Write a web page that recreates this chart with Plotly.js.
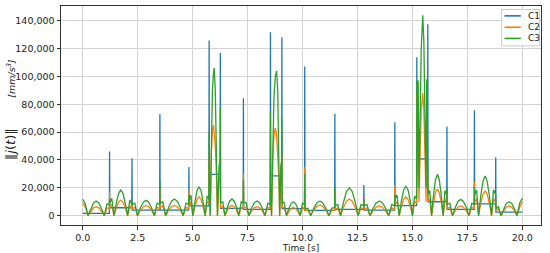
<!DOCTYPE html>
<html>
<head>
<meta charset="utf-8">
<script src="https://cdn.plot.ly/plotly-3.0.1.min.js"></script>
<style>
  html, body { margin: 0; padding: 0; background: #fff; }
  #chart { width: 550px; height: 253px; }
</style>
</head>
<body>
<div id="chart"></div>
<script>
// C1: flat jerk level per segment, spike at every waypoint
const tC1 = [0,
  1.21, 1.22, 1.23,  2.23, 2.24, 2.25,  3.50, 3.51, 3.52,  4.82, 4.83, 4.84,
  5.74, 5.75, 5.76,  6.25, 6.26, 6.27,  7.30, 7.31, 7.32,  8.53, 8.54, 8.55,
  9.05, 9.06, 9.07,  10.09, 10.10, 10.11,  11.46, 11.47, 11.48,  12.78, 12.79, 12.80,
  14.19, 14.20, 14.21,  15.19, 15.20, 15.21,  15.69, 15.70, 15.71,  16.56, 16.57, 16.58,
  17.81, 17.82, 17.83,  18.78, 18.79, 18.80,  20.0];
const c1 = [1700,
  1700, 46000, 5700,  5700, 41200, 4000,  4000, 73000, 4000,  4000, 35000, 7000,
  7000, 125700, 29700,  29700, 117000, 5300,  5300, 84300, 4500,  4500, 131700, 28500,
  28500, 128000, 5000,  5000, 107000, 3800,  3800, 73000, 4500,  4500, 22000, 4000,
  4000, 67000, 7200,  7200, 113700, 40700,  40700, 137400, 10000,  10000, 64000, 4500,
  4500, 75700, 8400,  8400, 42000, 2600,  2600];

// C2 / C3 share one time axis (arches inside each segment + waypoint spike)
const tHump = [
  0, 0.12, 0.24, 0.37, 0.49, 0.61, 0.73, 0.85, 0.98, 1.10, 1.21, 1.22,
  1.23, 1.32, 1.42, 1.53, 1.63, 1.73, 1.83, 1.93, 2.04, 2.14, 2.23, 2.24,
  2.25, 2.37, 2.49, 2.62, 2.75, 2.88, 3.00, 3.13, 3.26, 3.38, 3.50, 3.51,
  3.52, 3.64, 3.77, 3.91, 4.04, 4.17, 4.30, 4.43, 4.57, 4.70, 4.82, 4.83,
  4.84, 4.92, 5.01, 5.11, 5.20, 5.29, 5.38, 5.47, 5.57, 5.66, 5.74, 5.75,
  5.76, 5.80, 5.85, 5.90, 5.95, 5.98, 6.03, 6.08, 6.13, 6.20, 6.25, 6.26,
  6.27, 6.37, 6.47, 6.58, 6.68, 6.79, 6.89, 7.00, 7.10, 7.21, 7.30, 7.31,
  7.32, 7.43, 7.56, 7.68, 7.80, 7.93, 8.05, 8.17, 8.29, 8.42, 8.53, 8.54,
  8.55, 8.59, 8.64, 8.70, 8.76, 8.82, 8.87, 8.92, 8.96, 9.01, 9.05, 9.06,
  9.07, 9.16, 9.27, 9.37, 9.48, 9.58, 9.68, 9.79, 9.89, 10.00, 10.09, 10.10,
  10.11, 10.24, 10.37, 10.51, 10.65, 10.79, 10.92, 11.06, 11.20, 11.33, 11.46, 11.47,
  11.48, 11.60, 11.73, 11.87, 12.00, 12.13, 12.26, 12.39, 12.53, 12.66, 12.78, 12.79,
  12.80, 12.93, 13.07, 13.21, 13.35, 13.50, 13.64, 13.78, 13.92, 14.06, 14.19, 14.20,
  14.21, 14.30, 14.40, 14.50, 14.60, 14.70, 14.80, 14.90, 15.00, 15.10, 15.19, 15.20,
  15.21, 15.26, 15.30, 15.35, 15.40, 15.47, 15.52, 15.57, 15.62, 15.65, 15.69, 15.70,
  15.71, 15.79, 15.87, 15.96, 16.05, 16.14, 16.22, 16.31, 16.40, 16.48, 16.56, 16.57,
  16.58, 16.70, 16.82, 16.95, 17.07, 17.20, 17.32, 17.45, 17.57, 17.70, 17.81, 17.82,
  17.83, 17.92, 18.01, 18.11, 18.21, 18.31, 18.40, 18.50, 18.60, 18.69, 18.78, 18.79,
  18.80, 18.91, 19.03, 19.15, 19.27, 19.40, 19.52, 19.64, 19.76, 19.88, 20.00
];
const c2 = [
  9000, 6000, 0, 3200, 5600, 6500, 5600, 3200, 0, 5500, 5000, 17000,
  6000, 8000, 0, 5600, 9700, 11200, 9700, 5600, 0, 7000, 5000, 10000,
  5000, 6000, 0, 3700, 6400, 7400, 6400, 3700, 0, 6000, 5000, 19000,
  6000, 7000, 0, 3700, 6400, 7400, 6400, 3700, 0, 6000, 5000, 19000,
  7000, 10000, 0, 6800, 11800, 13600, 11800, 6800, 0, 10000, 9000, 40000,
  15000, 0, 45000, 62000, 65000, 60000, 50000, 30000, 0, 25000, 30000, 50000,
  6000, 6500, 0, 3700, 6400, 7400, 6400, 3700, 0, 6000, 5500, 30000,
  6000, 6000, 0, 3200, 5600, 6500, 5600, 3200, 0, 6000, 5000, 50000,
  15000, 0, 40000, 58000, 63000, 58000, 45000, 28000, 0, 25000, 30000, 45000,
  6000, 6000, 0, 3000, 5200, 6000, 5200, 3000, 0, 6000, 5000, 35000,
  3500, 4000, 0, 3900, 6700, 7700, 6700, 3900, 0, 4000, 4000, 17000,
  5000, 5500, 0, 6000, 10400, 12000, 10400, 6000, 0, 5500, 5000, 12400,
  5000, 5500, 0, 3500, 6100, 7000, 6100, 3500, 0, 5500, 5000, 22000,
  8000, 10000, 0, 6800, 11800, 13600, 11800, 6800, 0, 10000, 9000, 88000,
  20000, 60000, 10000, 45000, 75000, 88000, 75000, 45000, 10000, 60000, 20000, 30000,
  10000, 12000, 0, 9600, 16600, 19100, 16600, 9600, 0, 12000, 10000, 15000,
  5000, 6000, 0, 3500, 6100, 7000, 6100, 3500, 0, 6000, 5000, 24400,
  10000, 12000, 0, 8900, 15400, 17700, 15400, 8900, 0, 12000, 10000, 10000,
  4000, 5000, 0, 3500, 6100, 7000, 6100, 3500, 0, 6000, 10000
];
const c3 = [
  11800, 8000, 0, 5200, 9100, 10500, 9100, 5200, 0, 8500, 8000, 12000,
  9000, 12500, 0, 9200, 16000, 18400, 16000, 9200, 0, 11300, 8000, 10000,
  8000, 9000, 0, 5500, 9600, 11000, 9600, 5500, 0, 9000, 8000, 25600,
  9000, 10000, 0, 6000, 10400, 12000, 10400, 6000, 0, 9000, 8000, 15000,
  10000, 14800, 0, 10400, 18100, 20800, 18100, 10400, 0, 14000, 12000, 60000,
  20000, 0, 60000, 90000, 103000, 106000, 90000, 50000, 0, 35000, 40000, 78000,
  9000, 10000, 0, 6000, 10400, 12000, 10400, 6000, 0, 10000, 9000, 25600,
  9000, 9500, 0, 5300, 9100, 10500, 9100, 5300, 0, 9000, 8000, 75000,
  20000, 0, 55000, 85000, 100000, 104000, 90000, 50000, 0, 35000, 40000, 70000,
  9000, 9500, 0, 5000, 8700, 10000, 8700, 5000, 0, 9000, 8000, 30000,
  5000, 5300, 0, 5300, 9100, 10500, 9100, 5300, 0, 5300, 6000, 20800,
  7000, 8000, 0, 10000, 17400, 20000, 17400, 10000, 0, 8000, 7000, 12000,
  7000, 8000, 0, 5300, 9100, 10500, 9100, 5300, 0, 8000, 7000, 15000,
  12000, 14800, 0, 10700, 18500, 21300, 18500, 10700, 0, 14000, 12000, 97000,
  30000, 97000, 20000, 70000, 120000, 143900, 125000, 70000, 20000, 98000, 30000, 40000,
  15000, 18000, 0, 14900, 25800, 29700, 25800, 14900, 0, 18000, 15000, 20000,
  8000, 9000, 0, 5900, 10200, 11700, 10200, 5900, 0, 9000, 8000, 20800,
  15000, 18500, 0, 14300, 24800, 28500, 24800, 14300, 0, 18500, 15000, 15000,
  5000, 6500, 0, 5000, 8700, 10000, 8700, 5000, 0, 9000, 12500
];

const seriesNames = ['C1', 'C2', 'C3'];
const seriesColors = ['#1f77b4', '#ff7f0e', '#2ca02c'];

const traces = [
  {x: tC1, y: c1},
  {x: tHump, y: c2},
  {x: tHump, y: c3}
].map(function (d, i) {
  return {
    x: d.x, y: d.y, type: 'scatter', mode: 'lines',
    name: seriesNames[i], showlegend: false,
    line: {color: seriesColors[i], width: 1.3}
  };
});

// small matplotlib-like legend box in the upper right corner (paper coords)
const shapes = [{
  type: 'rect', xref: 'paper', yref: 'paper',
  x0: 0.918, x1: 0.997, y0: 0.818, y1: 0.984,
  line: {color: '#cccccc', width: 1}, fillcolor: 'rgba(255,255,255,0.85)'
}];
const annotations = [];
const rowY = [0.955, 0.903, 0.852];
seriesNames.forEach(function (n, i) {
  shapes.push({
    type: 'line', xref: 'paper', yref: 'paper',
    x0: 0.924, x1: 0.958, y0: rowY[i], y1: rowY[i],
    line: {color: seriesColors[i], width: 1.6}
  });
  annotations.push({
    xref: 'paper', yref: 'paper', x: 0.968, y: rowY[i],
    xanchor: 'left', yanchor: 'middle', showarrow: false,
    text: n, font: {size: 9, color: '#222'}
  });
});

// y-axis label placed by hand
annotations.push({
  xref: 'paper', yref: 'paper', x: -0.106, y: 0.525,
  xanchor: 'center', yanchor: 'middle', showarrow: false, textangle: -90,
  text: '<span style="font-size:13px">‖<i>j</i>(<i>t</i>)‖</span>&nbsp;&nbsp;&nbsp;&nbsp;&nbsp;&nbsp;&nbsp;&nbsp;<span style="font-size:9.5px"><i>[mm/s<sup>3</sup>]</i></span>',
  font: {color: '#222'}
});

const axisCommon = {
  showline: true, mirror: true, linecolor: '#333', linewidth: 1,
  showgrid: true, gridcolor: '#d3d3d3', gridwidth: 1,
  zeroline: false, ticks: 'outside', ticklen: 3.5, tickcolor: '#333',
  tickfont: {family: 'DejaVu Sans', size: 9.5, color: '#222'}
};

const layout = {
  width: 550, height: 253,
  margin: {l: 61, r: 9, t: 6, b: 28},
  paper_bgcolor: '#fff', plot_bgcolor: '#fff',
  font: {family: 'DejaVu Sans', color: '#222'},
  showlegend: false,
  shapes: shapes,
  annotations: annotations,
  xaxis: Object.assign({}, axisCommon, {
    range: [-0.99, 20.85], dtick: 2.5, tick0: 0, tickformat: '.1f',
    title: {text: 'Time [s]', font: {size: 9}, standoff: 4}
  }),
  yaxis: Object.assign({}, axisCommon, {
    range: [-6700, 150500], dtick: 20000, tickformat: ',d'
  })
};

Plotly.newPlot('chart', traces, layout, {displayModeBar: false, staticPlot: true});
</script>
</body>
</html>
